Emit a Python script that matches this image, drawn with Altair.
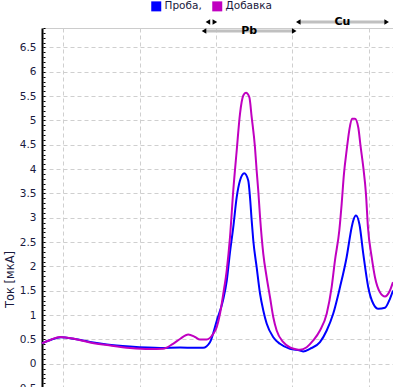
import altair as alt
import pandas as pd

# Потенциал (В) и ток (мкА) — Проба
E_sample = [-0.728, -0.717, -0.703, -0.685, -0.665, -0.643, -0.613, -0.573, -0.547, -0.528,
            -0.517, -0.508, -0.499, -0.491, -0.486, -0.482, -0.4775, -0.473, -0.4687, -0.4631,
            -0.4579, -0.4556, -0.4534, -0.4513, -0.4469, -0.4425, -0.4382, -0.4338, -0.4251, -0.4164,
            -0.4033, -0.3902, -0.3859, -0.3771, -0.364, -0.3552, -0.3466, -0.3378, -0.3291, -0.3225,
            -0.3204, -0.3169, -0.3123, -0.3073, -0.3008, -0.2942, -0.2877, -0.2789, -0.2724, -0.2684]
I_sample = [0.42, 0.49, 0.547, 0.51, 0.448, 0.397, 0.355, 0.325, 0.335, 0.329,
            0.329, 0.444, 0.89, 1.30, 1.71, 2.266, 2.807, 3.423, 3.766, 3.916,
            3.766, 3.423, 2.944, 2.533, 1.985, 1.444, 1.095, 0.828, 0.547, 0.411,
            0.308, 0.273, 0.253, 0.308, 0.444, 0.684, 1.033, 1.574, 2.19, 2.807,
            2.944, 3.047, 2.862, 2.26, 1.574, 1.233, 1.13, 1.151, 1.336, 1.506]

# Добавка
E_add = [-0.728, -0.717, -0.7043, -0.6847, -0.665, -0.6428, -0.6127, -0.5865, -0.5695, -0.5564,
         -0.5473, -0.5364, -0.5276, -0.5211, -0.5123, -0.5037, -0.4992, -0.4949, -0.4906, -0.4861,
         -0.4818, -0.4775, -0.473, -0.4687, -0.4644, -0.4609, -0.4565, -0.4534, -0.4491, -0.4469,
         -0.4448, -0.4425, -0.4382, -0.4338, -0.4294, -0.4251, -0.4207, -0.412, -0.4033, -0.3945,
         -0.3902, -0.3814, -0.3728, -0.364, -0.3552, -0.3487, -0.3444, -0.3387, -0.3356, -0.3326,
         -0.3291, -0.3257, -0.3221, -0.3182, -0.3139, -0.3107, -0.3073, -0.3038, -0.3012, -0.2963,
         -0.292, -0.2855, -0.2789, -0.2724, -0.2684]
I_add = [0.42, 0.49, 0.551, 0.51, 0.438, 0.386, 0.325, 0.304, 0.308, 0.411,
         0.51, 0.602, 0.551, 0.499, 0.499, 0.616, 0.752, 1.027, 1.438, 1.917,
         2.601, 3.561, 4.383, 5.137, 5.513, 5.568, 5.478, 5.067, 4.45, 3.972,
         3.561, 3.026, 2.26, 1.779, 1.368, 0.957, 0.684, 0.444, 0.335, 0.294,
         0.288, 0.341, 0.479, 0.684, 1.027, 1.574, 2.122, 2.739, 3.287, 3.904,
         4.383, 4.793, 5.034, 5.034, 4.861, 4.45, 4.039, 3.493, 2.807, 2.19,
         1.779, 1.471, 1.383, 1.506, 1.677]

series_names = ["Проба,", "Добавка"]
series_colors = ["#0000ff", "#c000c0"]

# Области интегрирования пиков
peak_labels = ["Pb", "Cu"]
peak_start = [-0.5158, -0.3924]
peak_end = [-0.3977, -0.2767]
marker_start = [-0.5107]
marker_end = [-0.5016]

y_major = [-0.5 + 0.5 * i for i in range(15)]
y_minor = [round(-0.6 + 0.1 * i, 2) for i in range(76)]
x_grid = [-0.7, -0.6, -0.5, -0.4, -0.3]

df_s = pd.DataFrame({"E": E_sample, "I": I_sample, "Серия": series_names[0]})
df_a = pd.DataFrame({"E": E_add, "I": I_add, "Серия": series_names[1]})
peaks = pd.DataFrame({"label": peak_labels, "start": peak_start, "end": peak_end})
marker = pd.DataFrame({"start": marker_start, "end": marker_end})

FONT = "DejaVu Sans"
GRID = "#cfcfcf"

xscale = alt.Scale(domain=[-0.7279, -0.2684], nice=False, zero=False)
yscale = alt.Scale(domain=[-0.6, 6.9], nice=False, zero=False)

color = alt.Color(
    "Серия:N",
    scale=alt.Scale(domain=series_names, range=series_colors),
    legend=alt.Legend(
        orient="none", legendX=109, legendY=-27, direction="horizontal", title=None,
        symbolType="square", symbolSize=25, symbolStrokeWidth=5, padding=0,
        labelFont=FONT, labelFontSize=10.5, labelColor="#1a1a40", columnPadding=2, labelOffset=3,
    ),
)

x_enc = alt.X("E:Q", scale=xscale,
              axis=alt.Axis(values=x_grid, labels=False, ticks=False, domain=False, title=None,
                            grid=True, gridColor=GRID, gridDash=[4, 3]))
y_enc = alt.Y("I:Q", scale=yscale,
              axis=alt.Axis(values=y_major, format=".1~f", title="Ток [мкА]",
                            domainColor="#000000", domainWidth=2, ticks=False, labelPadding=6,
                            labelFont=FONT, labelFontSize=10.5, labelColor="#1a1a40",
                            grid=True, gridColor=GRID, gridDash=[4, 3],
                            titleFont=FONT, titleFontSize=11.5, titleFontWeight="normal",
                            titleColor="#1a1a40", titleX=-32, titleY=251, titleAngle=-90,
                            titleBaseline="middle", titleAlign="center"))

line_s = alt.Chart(df_s).mark_line(strokeWidth=2, interpolate="monotone").encode(
    x=x_enc, y=y_enc, color=color)
line_a = alt.Chart(df_a).mark_line(strokeWidth=2, interpolate="monotone").encode(
    x=x_enc, y=alt.Y("I:Q", scale=yscale, axis=None), color=color)

minor = alt.Chart(df_s).mark_line(opacity=0).encode(
    x=alt.X("E:Q", scale=xscale),
    y=alt.Y("I:Q", scale=yscale,
            axis=alt.Axis(orient="left", offset=-3, values=y_minor, labels=False, domain=False,
                          grid=False, tickSize=2, tickColor="#000000", title=None)),
)

YY = "datum.label == 'Pb' ? 3 : -6"
yy_enc = alt.Y("yy:Q", scale=None, axis=None)
bars = alt.Chart(peaks).mark_rule(strokeWidth=3, color="#c0c0c0").encode(
    x="start:Q", x2="end:Q", y=yy_enc).transform_calculate(yy=YY)
tri_l = alt.Chart(peaks).mark_point(shape="triangle-left", filled=True, size=28, color="#000000", opacity=1).encode(
    x="start:Q", y=yy_enc).transform_calculate(yy=YY)
tri_r = alt.Chart(peaks).mark_point(shape="triangle-right", filled=True, size=28, color="#000000", opacity=1).encode(
    x="end:Q", y=yy_enc).transform_calculate(yy=YY)
labels = alt.Chart(peaks).mark_text(font=FONT, fontSize=11, fontWeight="bold", color="#000000", baseline="middle").encode(
    x="mid:Q", y=yy_enc, text="label:N").transform_calculate(
    yy=YY, mid="(datum.start + datum.end) / 2")
m_l = alt.Chart(marker).mark_point(shape="triangle-left", filled=True, size=28, color="#000000", opacity=1).encode(
    x="start:Q", y=alt.value(-6))
m_r = alt.Chart(marker).mark_point(shape="triangle-right", filled=True, size=28, color="#000000", opacity=1).encode(
    x="end:Q", y=alt.value(-6))

chart = alt.layer(line_s, line_a, minor, bars, labels, tri_l, tri_r, m_l, m_r).resolve_axis(
    y="independent"
).properties(
    width=351, height=365,
    padding={"left": 42, "top": 28, "right": 0, "bottom": 0},
    autosize=alt.AutoSizeParams(type="none"),
    background="#ffffff",
).configure_view(stroke="#cccccc", strokeWidth=1)

chart.save("out.html", embed_options={"renderer": "svg", "actions": False})
